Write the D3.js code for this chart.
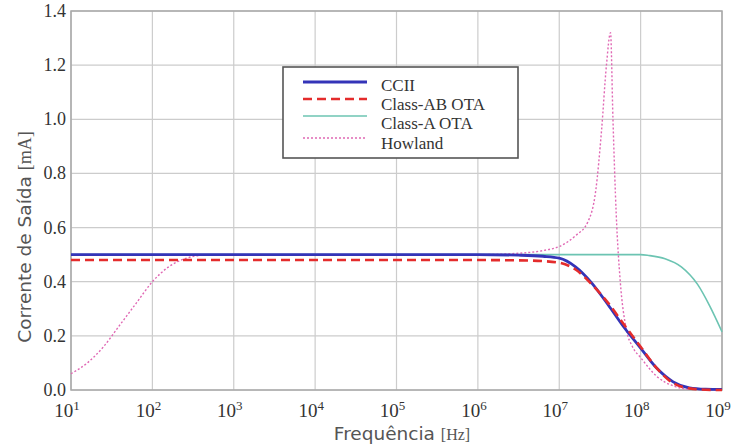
<!doctype html>
<html>
<head>
<meta charset="utf-8"/>
<script src="https://cdnjs.cloudflare.com/ajax/libs/d3/7.8.5/d3.min.js"></script>
<style>
  body { margin: 0; background: #fff; }
  svg { display: block; }
</style>
</head>
<body>
<svg id="chart" width="746" height="448"></svg>
<script>
// data: frequency exponent (log10 Hz) and output current (mA)
var xTicks = [1, 2, 3, 4, 5, 6, 7, 8, 9];
var yTicks = [0, 0.2, 0.4, 0.6, 0.8, 1.0, 1.2, 1.4];
var seriesNames = ["CCII", "Class-AB OTA", "Class-A OTA", "Howland"];

var cciiExp = [1, 6, 6.5, 6.8, 7, 7.2, 7.4, 7.6, 7.8, 8, 8.2, 8.4, 8.6, 8.8, 9];
var cciiVal = [0.5, 0.5, 0.498, 0.494, 0.487, 0.455, 0.395, 0.315, 0.23, 0.155, 0.08, 0.03, 0.008, 0.003, 0.002];

var abExp = [1, 6, 6.5, 6.8, 7, 7.2, 7.4, 7.6, 7.8, 8, 8.2, 8.4, 8.6, 8.8, 9];
var abVal = [0.48, 0.48, 0.479, 0.476, 0.47, 0.445, 0.39, 0.322, 0.24, 0.16, 0.08, 0.025, 0.006, 0.001, 0];

var aExp = [1, 7, 8, 8.1, 8.3, 8.5, 8.7, 8.85, 9];
var aVal = [0.5, 0.5, 0.5, 0.497, 0.485, 0.455, 0.39, 0.31, 0.215];

var howExp = [1, 1.2, 1.4, 1.6, 1.8, 2, 2.2, 2.4, 2.7, 6, 6.5, 6.8, 7, 7.2, 7.35, 7.45, 7.52, 7.58, 7.63, 7.66, 7.7, 7.75, 7.82, 7.9, 8, 8.2, 8.4, 8.6, 9];
var howVal = [0.06, 0.1, 0.16, 0.24, 0.32, 0.40, 0.455, 0.485, 0.5, 0.5, 0.505, 0.515, 0.53, 0.57, 0.62, 0.74, 0.96, 1.2, 1.32, 1.0, 0.65, 0.4, 0.23, 0.16, 0.12, 0.05, 0.015, 0.003, 0];

var svg = d3.select("#chart");
var pLeft = 71, pRight = 722, pTop = 11, pBottom = 390;

var x = d3.scaleLinear().domain([1, 9]).range([pLeft, pRight]);
var y = d3.scaleLinear().domain([0, 1.4]).range([pBottom, pTop]);

// grid
svg.append("g").selectAll("line")
  .data(xTicks).enter().append("line")
  .attr("x1", d => x(d)).attr("x2", d => x(d))
  .attr("y1", pTop).attr("y2", pBottom)
  .attr("stroke", "#cccccc").attr("stroke-width", 1.2);
svg.append("g").selectAll("line")
  .data(yTicks).enter().append("line")
  .attr("y1", d => y(d)).attr("y2", d => y(d))
  .attr("x1", pLeft).attr("x2", pRight)
  .attr("stroke", "#cccccc").attr("stroke-width", 1.2);

svg.append("rect")
  .attr("x", pLeft).attr("y", pTop)
  .attr("width", pRight - pLeft).attr("height", pBottom - pTop)
  .attr("fill", "none").attr("stroke", "#a8a8a8").attr("stroke-width", 1.5);

// y tick labels
svg.append("g").selectAll("text")
  .data(yTicks).enter().append("text")
  .attr("x", pLeft - 5).attr("y", d => y(d) + 6)
  .attr("text-anchor", "end")
  .attr("font-family", "Liberation Serif, serif")
  .attr("font-size", 18).attr("fill", "#333")
  .text(d => d.toFixed(1));

// x tick labels 10^n
var xl = svg.append("g").selectAll("text")
  .data(xTicks).enter().append("text")
  .attr("x", d => x(d) - 4).attr("y", 417)
  .attr("text-anchor", "middle")
  .attr("font-family", "Liberation Serif, serif")
  .attr("font-size", 19).attr("fill", "#333");
xl.append("tspan").text("10");
xl.append("tspan").attr("dy", -7).attr("font-size", 13).text(d => d);

// axis titles
var yt = svg.append("text")
  .attr("transform", "translate(31,237) rotate(-90)")
  .attr("text-anchor", "middle")
  .attr("fill", "#555");
yt.append("tspan").attr("font-family", "DejaVu Sans, sans-serif").attr("font-size", 18.5).text("Corrente de Saída ");
yt.append("tspan").attr("font-family", "Liberation Serif, serif").attr("font-size", 18).text("[mA]");

var xt = svg.append("text")
  .attr("x", 402).attr("y", 440)
  .attr("text-anchor", "middle")
  .attr("fill", "#555");
xt.append("tspan").attr("font-family", "DejaVu Sans, sans-serif").attr("font-size", 18.5).text("Frequência ");
xt.append("tspan").attr("font-family", "Liberation Serif, serif").attr("font-size", 16).text("[Hz]");

// lines
var line = d3.line()
  .x(d => x(d[0])).y(d => y(d[1]))
  .curve(d3.curveMonotoneX);

function pairs(e, v) { return e.map((d, i) => [d, v[i]]); }

var series = [
  { name: seriesNames[0], data: pairs(cciiExp, cciiVal), color: "#3434b8", width: 2.8, dash: null, ly: 82, ty: 91 },
  { name: seriesNames[1], data: pairs(abExp, abVal), color: "#e42c2c", width: 2.6, dash: "9,5", ly: 99, ty: 110 },
  { name: seriesNames[2], data: pairs(aExp, aVal), color: "#6cc4b2", width: 1.6, dash: null, ly: 116, ty: 129 },
  { name: seriesNames[3], data: pairs(howExp, howVal), color: "#e068b4", width: 1.4, dash: "2,2", ly: 138, ty: 149 }
];

var drawOrder = [series[2], series[3], series[0], series[1]];
svg.append("g").selectAll("path")
  .data(drawOrder).enter().append("path")
  .attr("d", d => line(d.data))
  .attr("fill", "none")
  .attr("stroke", d => d.color)
  .attr("stroke-width", d => d.width)
  .attr("stroke-dasharray", d => d.dash);

// legend
var lg = svg.append("g");
lg.append("rect")
  .attr("x", 283).attr("y", 67).attr("width", 235).attr("height", 91)
  .attr("fill", "#fff").attr("stroke", "#555").attr("stroke-width", 1.6);

lg.selectAll("line")
  .data(series).enter().append("line")
  .attr("x1", 303).attr("x2", 367)
  .attr("y1", d => d.ly).attr("y2", d => d.ly)
  .attr("stroke", d => d.color)
  .attr("stroke-width", d => d.width)
  .attr("stroke-dasharray", d => d.dash);

lg.selectAll("text")
  .data(series).enter().append("text")
  .attr("x", 381).attr("y", d => d.ty)
  .attr("font-family", "Liberation Serif, serif")
  .attr("font-size", 17).attr("fill", "#333")
  .text(d => d.name);
</script>
</body>
</html>
